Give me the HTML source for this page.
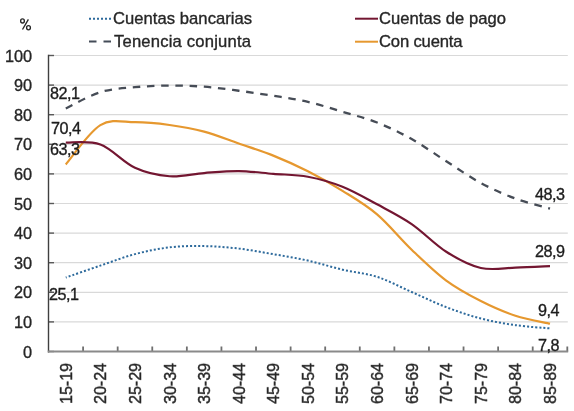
<!DOCTYPE html>
<html><head><meta charset="utf-8"><style>
html,body{margin:0;padding:0;background:#fff;}
body{-webkit-font-smoothing:antialiased;-webkit-text-stroke:0.35px #262626;width:574px;height:411px;position:relative;overflow:hidden;font-family:"Liberation Sans",sans-serif;color:#262626;}
svg{position:absolute;left:0;top:0;}
.t{will-change:transform;position:absolute;white-space:nowrap;line-height:1;}
.leg{will-change:transform;position:absolute;font-size:16.6px;letter-spacing:0.15px;line-height:1;white-space:nowrap;color:#262626;}
.yl{will-change:transform;position:absolute;right:542px;font-size:16.3px;line-height:19px;white-space:nowrap;color:#262626;}
.dl{position:absolute;font-size:16.2px;letter-spacing:-0.5px;will-change:transform;line-height:1;white-space:nowrap;color:#1a1a1a;}
.xl{position:absolute;top:363px;width:0;height:0;}
.xl span{will-change:transform;position:absolute;left:0;top:0;font-size:16px;line-height:1;white-space:nowrap;color:#262626;transform-origin:0 0;transform:rotate(-90deg) translate(-100%,-50%);}
</style></head><body>
<svg width="574" height="411" viewBox="0 0 574 411">
<line x1="48.5" y1="321.90" x2="567.8" y2="321.90" stroke="#d9d9d9" stroke-width="1.2"/>
<line x1="48.5" y1="292.30" x2="567.8" y2="292.30" stroke="#d9d9d9" stroke-width="1.2"/>
<line x1="48.5" y1="262.70" x2="567.8" y2="262.70" stroke="#d9d9d9" stroke-width="1.2"/>
<line x1="48.5" y1="233.10" x2="567.8" y2="233.10" stroke="#d9d9d9" stroke-width="1.2"/>
<line x1="48.5" y1="203.50" x2="567.8" y2="203.50" stroke="#d9d9d9" stroke-width="1.2"/>
<line x1="48.5" y1="173.90" x2="567.8" y2="173.90" stroke="#d9d9d9" stroke-width="1.2"/>
<line x1="48.5" y1="144.30" x2="567.8" y2="144.30" stroke="#d9d9d9" stroke-width="1.2"/>
<line x1="48.5" y1="114.70" x2="567.8" y2="114.70" stroke="#d9d9d9" stroke-width="1.2"/>
<line x1="48.5" y1="85.10" x2="567.8" y2="85.10" stroke="#d9d9d9" stroke-width="1.2"/>
<line x1="48.5" y1="55.50" x2="567.8" y2="55.50" stroke="#d9d9d9" stroke-width="1.2"/>
<line x1="48.5" y1="351.50" x2="54.0" y2="351.50" stroke="#595959" stroke-width="1.4"/>
<line x1="48.5" y1="321.90" x2="54.0" y2="321.90" stroke="#595959" stroke-width="1.4"/>
<line x1="48.5" y1="292.30" x2="54.0" y2="292.30" stroke="#595959" stroke-width="1.4"/>
<line x1="48.5" y1="262.70" x2="54.0" y2="262.70" stroke="#595959" stroke-width="1.4"/>
<line x1="48.5" y1="233.10" x2="54.0" y2="233.10" stroke="#595959" stroke-width="1.4"/>
<line x1="48.5" y1="203.50" x2="54.0" y2="203.50" stroke="#595959" stroke-width="1.4"/>
<line x1="48.5" y1="173.90" x2="54.0" y2="173.90" stroke="#595959" stroke-width="1.4"/>
<line x1="48.5" y1="144.30" x2="54.0" y2="144.30" stroke="#595959" stroke-width="1.4"/>
<line x1="48.5" y1="114.70" x2="54.0" y2="114.70" stroke="#595959" stroke-width="1.4"/>
<line x1="48.5" y1="85.10" x2="54.0" y2="85.10" stroke="#595959" stroke-width="1.4"/>
<line x1="48.5" y1="55.50" x2="54.0" y2="55.50" stroke="#595959" stroke-width="1.4"/>
<line x1="83.09" y1="346.50" x2="83.09" y2="351.50" stroke="#6f6f6f" stroke-width="1.8"/>
<line x1="117.67" y1="346.50" x2="117.67" y2="351.50" stroke="#6f6f6f" stroke-width="1.8"/>
<line x1="152.26" y1="346.50" x2="152.26" y2="351.50" stroke="#6f6f6f" stroke-width="1.8"/>
<line x1="186.85" y1="346.50" x2="186.85" y2="351.50" stroke="#6f6f6f" stroke-width="1.8"/>
<line x1="221.43" y1="346.50" x2="221.43" y2="351.50" stroke="#6f6f6f" stroke-width="1.8"/>
<line x1="256.02" y1="346.50" x2="256.02" y2="351.50" stroke="#6f6f6f" stroke-width="1.8"/>
<line x1="290.61" y1="346.50" x2="290.61" y2="351.50" stroke="#6f6f6f" stroke-width="1.8"/>
<line x1="325.19" y1="346.50" x2="325.19" y2="351.50" stroke="#6f6f6f" stroke-width="1.8"/>
<line x1="359.78" y1="346.50" x2="359.78" y2="351.50" stroke="#6f6f6f" stroke-width="1.8"/>
<line x1="394.37" y1="346.50" x2="394.37" y2="351.50" stroke="#6f6f6f" stroke-width="1.8"/>
<line x1="428.95" y1="346.50" x2="428.95" y2="351.50" stroke="#6f6f6f" stroke-width="1.8"/>
<line x1="463.54" y1="346.50" x2="463.54" y2="351.50" stroke="#6f6f6f" stroke-width="1.8"/>
<line x1="498.13" y1="346.50" x2="498.13" y2="351.50" stroke="#6f6f6f" stroke-width="1.8"/>
<line x1="532.71" y1="346.50" x2="532.71" y2="351.50" stroke="#6f6f6f" stroke-width="1.8"/>
<line x1="567.30" y1="346.50" x2="567.30" y2="351.50" stroke="#6f6f6f" stroke-width="1.8"/>
<line x1="48.50" y1="54.8" x2="48.50" y2="352.5" stroke="#3f3f3f" stroke-width="1.4"/>
<line x1="47.80" y1="351.5" x2="568.20" y2="351.5" stroke="#8a8a8a" stroke-width="1.9"/>
<path d="M65.79,277.50 C71.56,275.52 88.85,269.50 100.38,265.60 C111.91,261.70 123.44,257.15 134.97,254.12 C146.50,251.08 158.02,248.70 169.55,247.37 C181.08,246.03 192.61,245.89 204.14,246.09 C215.67,246.30 227.20,247.23 238.73,248.58 C250.26,249.93 261.78,252.18 273.31,254.18 C284.84,256.17 296.37,257.99 307.90,260.57 C319.43,263.15 330.96,266.94 342.49,269.66 C354.02,272.37 365.54,273.12 377.07,276.85 C388.60,280.57 400.13,286.95 411.66,292.00 C423.19,297.06 434.72,302.74 446.25,307.16 C457.78,311.57 469.30,315.50 480.83,318.50 C492.36,321.50 503.89,323.50 515.42,325.16 C526.95,326.81 544.24,327.87 550.01,328.41" fill="none" stroke="#2d6a9c" stroke-width="2" stroke-dasharray="2.03 2.028" stroke-dashoffset="1.015"/>
<path d="M65.79,108.48 C71.56,105.76 88.85,95.69 100.38,92.14 C111.91,88.60 123.44,88.30 134.97,87.20 C146.50,86.11 158.02,85.66 169.55,85.57 C181.08,85.49 192.61,85.84 204.14,86.70 C215.67,87.56 227.20,89.24 238.73,90.75 C250.26,92.27 261.78,93.94 273.31,95.79 C284.84,97.64 296.37,99.18 307.90,101.85 C319.43,104.52 330.96,108.35 342.49,111.80 C354.02,115.25 365.54,118.00 377.07,122.54 C388.60,127.09 400.13,132.61 411.66,139.06 C423.19,145.51 434.72,153.93 446.25,161.26 C457.78,168.59 469.30,176.80 480.83,183.02 C492.36,189.23 503.89,194.30 515.42,198.56 C526.95,202.81 544.24,206.87 550.01,208.53" fill="none" stroke="#464c56" stroke-width="2.3" stroke-dasharray="7.5 6.72"/>
<path d="M65.79,164.43 C71.56,157.89 88.85,132.21 100.38,125.18 C111.91,118.14 123.44,122.25 134.97,122.22 C146.50,122.18 158.02,123.40 169.55,124.97 C181.08,126.54 192.61,128.54 204.14,131.63 C215.67,134.72 227.20,139.50 238.73,143.50 C250.26,147.50 261.78,150.97 273.31,155.61 C284.84,160.24 296.37,165.42 307.90,171.30 C319.43,177.17 330.96,183.68 342.49,190.86 C354.02,198.04 365.54,204.59 377.07,214.39 C388.60,224.20 400.13,238.64 411.66,249.68 C423.19,260.71 434.72,272.05 446.25,280.61 C457.78,289.17 469.30,295.18 480.83,301.03 C492.36,306.89 503.89,311.97 515.42,315.74 C526.95,319.52 544.24,322.35 550.01,323.68" fill="none" stroke="#e6982f" stroke-width="2.2"/>
<path d="M65.79,142.52 C71.56,142.85 88.85,140.30 100.38,144.51 C111.91,148.71 123.44,162.45 134.97,167.74 C146.50,173.04 158.02,175.38 169.55,176.27 C181.08,177.15 192.61,173.91 204.14,173.04 C215.67,172.17 227.20,170.93 238.73,171.06 C250.26,171.19 261.78,172.90 273.31,173.84 C284.84,174.78 296.37,174.57 307.90,176.71 C319.43,178.86 330.96,182.11 342.49,186.72 C354.02,191.32 365.54,198.10 377.07,204.33 C388.60,210.55 400.13,216.16 411.66,224.07 C423.19,231.98 434.72,244.46 446.25,251.78 C457.78,259.09 469.30,265.32 480.83,267.97 C492.36,270.62 503.89,267.98 515.42,267.67 C526.95,267.36 544.24,266.37 550.01,266.10" fill="none" stroke="#731631" stroke-width="2.2"/>
<line x1="89" y1="18.8" x2="112" y2="18.8" stroke="#2d6a9c" stroke-width="2" stroke-dasharray="2 2"/>
<line x1="89" y1="41.5" x2="112" y2="41.5" stroke="#444c58" stroke-width="2.1" stroke-dasharray="7.5 7"/>
<line x1="355" y1="18.7" x2="378" y2="18.7" stroke="#731631" stroke-width="2"/>
<line x1="355" y1="41.7" x2="378" y2="41.7" stroke="#e6982f" stroke-width="2"/>
<g fill="none" stroke="#262626" stroke-width="1.35"><ellipse cx="22.5" cy="20.9" rx="1.85" ry="2.05"/><ellipse cx="28.5" cy="27.8" rx="1.9" ry="2.1"/><line x1="28.4" y1="19.3" x2="22.5" y2="29.5"/></g>
</svg>
<div class="yl" style="top:342.60px">0</div>
<div class="yl" style="top:313.00px">10</div>
<div class="yl" style="top:283.40px">20</div>
<div class="yl" style="top:253.80px">30</div>
<div class="yl" style="top:224.20px">40</div>
<div class="yl" style="top:194.60px">50</div>
<div class="yl" style="top:165.00px">60</div>
<div class="yl" style="top:135.40px">70</div>
<div class="yl" style="top:105.80px">80</div>
<div class="yl" style="top:76.20px">90</div>
<div class="yl" style="top:46.60px">100</div>

<div class="leg" style="left:113px;top:11px;letter-spacing:0.05px;">Cuentas bancarias</div>
<div class="leg" style="left:114px;top:34px;letter-spacing:0.2px;">Tenencia conjunta</div>
<div class="leg" style="left:379px;top:11px;letter-spacing:0.05px;">Cuentas de pago</div>
<div class="leg" style="left:379px;top:34px;letter-spacing:-0.15px;">Con cuenta</div>
<div class="dl" style="left:50.4px;top:85.2px;">82,1</div>
<div class="dl" style="left:50.7px;top:120.2px;">70,4</div>
<div class="dl" style="left:49.9px;top:140.7px;">63,3</div>
<div class="dl" style="left:49.4px;top:285.7px;">25,1</div>
<div class="dl" style="left:535.4px;top:185.7px;">48,3</div>
<div class="dl" style="left:535.4px;top:242.7px;">28,9</div>
<div class="dl" style="left:538.4px;top:302.4px;">9,4</div>
<div class="dl" style="left:538px;top:337.3px;">7,8</div>
<div class="xl" style="left:66.79px"><span>15-19</span></div>
<div class="xl" style="left:101.38px"><span>20-24</span></div>
<div class="xl" style="left:135.97px"><span>25-29</span></div>
<div class="xl" style="left:170.55px"><span>30-34</span></div>
<div class="xl" style="left:205.14px"><span>35-39</span></div>
<div class="xl" style="left:239.73px"><span>40-44</span></div>
<div class="xl" style="left:274.31px"><span>45-49</span></div>
<div class="xl" style="left:308.90px"><span>50-54</span></div>
<div class="xl" style="left:343.49px"><span>55-59</span></div>
<div class="xl" style="left:378.07px"><span>60-64</span></div>
<div class="xl" style="left:412.66px"><span>65-69</span></div>
<div class="xl" style="left:447.25px"><span>70-74</span></div>
<div class="xl" style="left:481.83px"><span>75-79</span></div>
<div class="xl" style="left:516.42px"><span>80-84</span></div>
<div class="xl" style="left:551.01px"><span>85-89</span></div>
</body></html>
